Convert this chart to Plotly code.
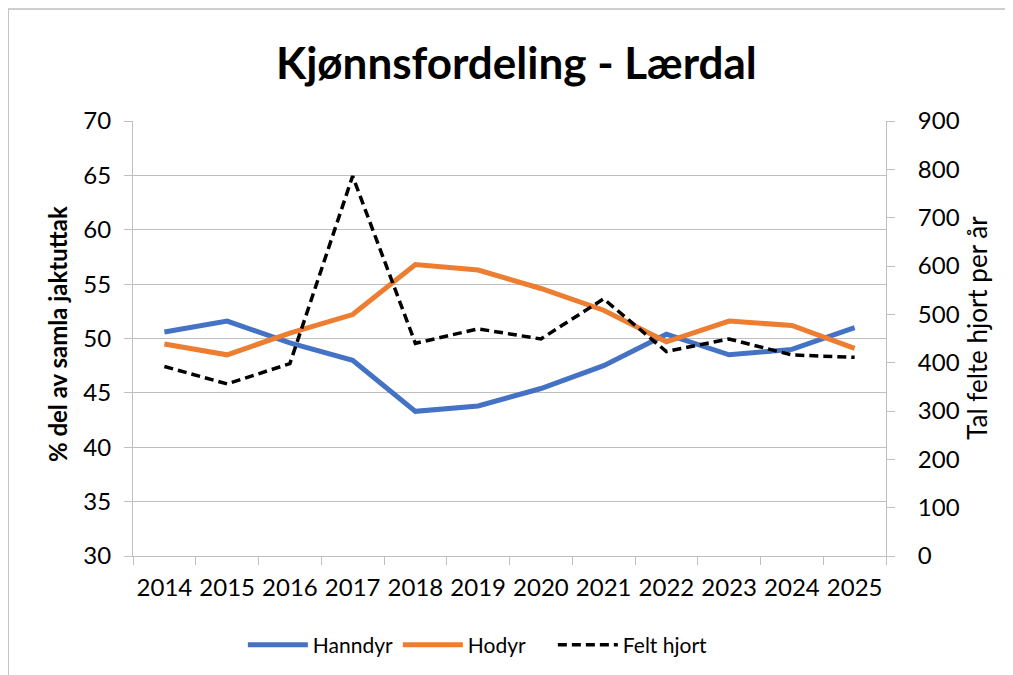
import plotly.graph_objects as go

years = [str(y) for y in range(2014, 2026)]
hanndyr = [50.6, 51.6, 49.6, 48.0, 43.3, 43.8, 45.4, 47.5, 50.4, 48.5, 49.0, 51.0]
hodyr = [49.5, 48.5, 50.5, 52.2, 56.8, 56.3, 54.6, 52.6, 49.7, 51.6, 51.2, 49.1]
felt_hjort = [392, 356, 398, 786, 440, 470, 449, 532, 423, 449, 416, 411]

FONT = "Lato"
GRAY = "#bfbfbf"

fig = go.Figure()
fig.add_trace(go.Scatter(x=years, y=hanndyr, name="Hanndyr", mode="lines",
                         line=dict(color="#4472C4", width=5)))
fig.add_trace(go.Scatter(x=years, y=hodyr, name="Hodyr", mode="lines",
                         line=dict(color="#ED7D31", width=5)))
fig.add_trace(go.Scatter(x=years, y=felt_hjort, name="Felt hjort", mode="lines", yaxis="y2",
                         line=dict(color="#000000", width=3.5, dash="9px,5px")))

fig.update_layout(
    width=1005, height=667,
    margin=dict(l=125, r=127, t=113, b=119, autoexpand=False),
    paper_bgcolor="white", plot_bgcolor="white",
    font=dict(family=FONT, size=24, color="#000000"),
    showlegend=True,
    legend=dict(orientation="h", x=(247-133-4)/754, xanchor="left", y=(556-645)/435, yanchor="middle",
                font=dict(size=21), itemwidth=60, traceorder="normal", entrywidth=80,
                entrywidthmode="pixels"),
    xaxis=dict(type="category", range=[-0.5, 11.5], showline=True, linecolor=GRAY, linewidth=1,
               ticks="outside", tickson="boundaries", ticklen=8, tickcolor=GRAY,
               showgrid=False, tickfont=dict(size=24), tickangle=0, ticklabelstandoff=10),
    yaxis=dict(range=[30, 70], dtick=5, tick0=30, showline=True, linecolor=GRAY,
               ticks="outside", ticklen=8, tickcolor=GRAY, showgrid=True,
               gridcolor="#bfbfbf", gridwidth=1, zeroline=False,
               tickfont=dict(size=24), ticklabelstandoff=8),
    yaxis2=dict(range=[0, 900], dtick=100, tick0=0, overlaying="y", side="right",
                showline=True, linecolor=GRAY, ticks="outside", ticklen=8,
                tickcolor=GRAY, showgrid=False, zeroline=False,
                tickfont=dict(size=24), ticklabelstandoff=18),
    shapes=[dict(type="rect", xref="paper", yref="paper",
                 x0=-125/754, x1=1.3, y0=-0.5, y1=(556-9)/435,
                 line=dict(color="#bfbfbf", width=1.5), layer="below")],
    annotations=[
        dict(text="<b>Kjønnsfordeling - Lærdal</b>", xref="paper", yref="paper",
             x=(517-133)/754, y=(556-62)/435, xanchor="center", yanchor="middle",
             showarrow=False, font=dict(size=44, family=FONT)),
        dict(text="<b>% del av samla jaktuttak</b>", xref="paper", yref="paper",
             x=(57-133)/754, y=(556-334)/435, xanchor="center", yanchor="middle",
             textangle=-90, showarrow=False, font=dict(size=24, family=FONT)),
        dict(text="Tal felte hjort per år", xref="paper", yref="paper",
             x=(978-133)/754, y=(556-328)/435, xanchor="center", yanchor="middle",
             textangle=-90, showarrow=False, font=dict(size=26, family=FONT)),
    ],
)

fig.write_html("out.html")
